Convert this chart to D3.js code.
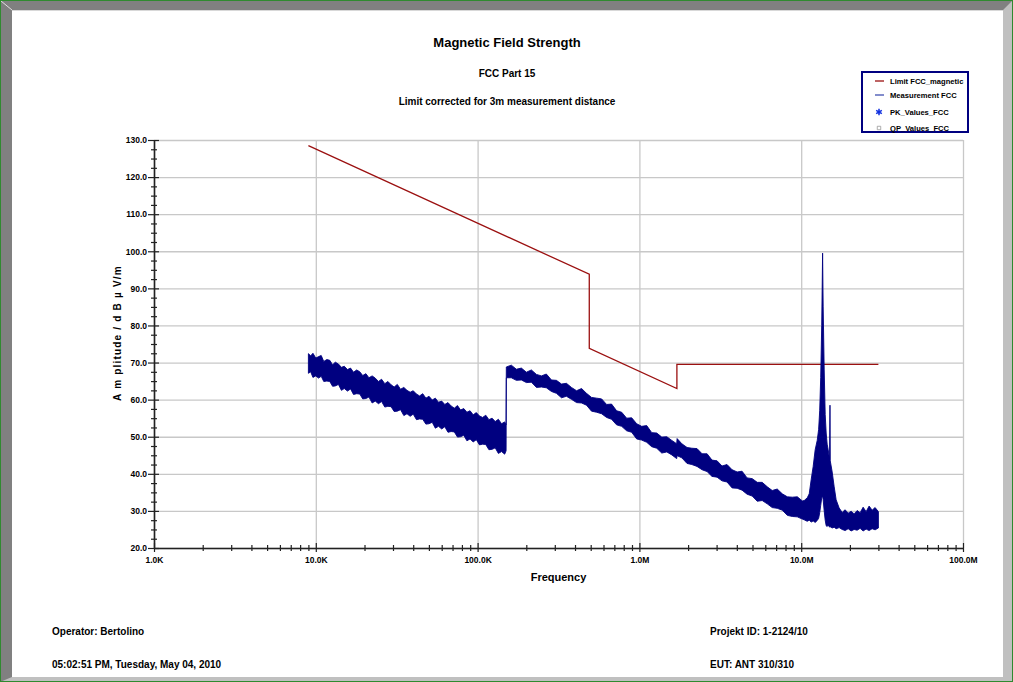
<!DOCTYPE html>
<html>
<head>
<meta charset="utf-8">
<script src="https://cdn.jsdelivr.net/npm/d3@7"></script>
<style>
html, body { margin: 0; padding: 0; background: #fff; overflow: hidden; }
svg text { font-family: 'Liberation Sans Narrow', 'Arial Narrow', 'Liberation Sans', Arial, sans-serif; font-weight: bold; fill: #000; }
</style>
</head>
<body>
<svg id="chart"></svg>
<script>
// Chart data (frequencies in kHz, levels in dBµV/m)
var xTickValues = [1, 10, 100, 1000, 10000, 100000];
var xTickLabels = ["1.0K", "10.0K", "100.0K", "1.0M", "10.0M", "100.0M"];
var yTickValues = [20, 30, 40, 50, 60, 70, 80, 90, 100, 110, 120, 130];

// FCC limit line
var limitFreq  = [9, 490, 490, 1705, 1705, 30000];
var limitLevel = [128.5, 93.8, 73.8, 63.0, 69.5, 69.5];

var measFreq = [
  9, 9.3, 9.6, 10, 10.4, 10.8, 11.2, 11.7, 12.2, 12.7, 13.2, 13.8, 14.4, 15, 15.7, 16.4, 17.1, 17.9, 18.7, 19.5,
  20.4, 21.3, 22.3, 23.3, 24.4, 25.5, 26.7, 27.9, 29.2, 30.5, 31.9, 33.4, 35, 36.6, 38.3, 40, 41.9, 43.8, 45.8, 47.9,
  50.1, 52.4, 54.8, 57.3, 60, 62.7, 65.6, 68.6, 71.8, 75.1, 78.5, 82.1, 85.9, 89.8, 93.9, 98.2, 102.7, 107.4, 112.3, 117.5,
  122.9, 128.5, 134.4, 140.6, 147, 150,
  150.5, 161.6, 173.6, 186.4, 200.2, 215, 231, 248, 266, 286, 307, 330, 354, 380, 409, 439, 471, 506, 544, 584,
  627, 673, 723, 777, 834, 896, 962, 1033, 1110, 1192, 1280, 1375, 1477, 1586, 1700, 1710, 1830, 1970, 2110, 2270,
  2440, 2620, 2810, 3020, 3240, 3480, 3740, 4020, 4310, 4630, 4980, 5350, 5740, 6170, 6620, 7110, 7640, 8210, 8810, 9460, 10160,
  10430, 10890, 11210, 11530, 11860, 12200, 12560, 12820, 13010, 13200, 13390, 13560, 13670, 13870, 14070, 14270, 14470, 14680,
  14970, 15060, 15120, 15540, 15990, 16440, 17160,
  17910, 18690, 19510, 20350, 21240, 22170, 23130, 24140, 25190, 26290, 27440, 28630, 30000
];
var measMax = [
  72.4, 71.8, 72.5, 71.2, 71.6, 71.9, 70.3, 70.8, 70.6, 69.4, 70.1, 69.6, 68.7, 69.0, 68.1, 68.5, 67.4, 68.0, 67.5, 66.5,
  67.0, 65.9, 66.4, 65.8, 64.9, 65.5, 64.3, 64.9, 64.0, 63.4, 64.1, 62.8, 63.3, 62.5, 62.0, 62.4, 61.5, 61.0, 61.6, 60.4,
  60.9, 59.9, 60.4, 59.3, 59.6, 58.7, 59.2, 58.3, 57.7, 58.4, 57.2, 57.6, 56.6, 57.0, 55.9, 56.5, 55.6, 55.2, 55.8, 54.6,
  55.0, 54.1, 54.7, 53.5, 54.0, 53.2,
  68.8, 69.3, 68.2, 68.5, 67.4, 68.0, 66.8, 66.4, 66.9, 65.3, 65.2, 64.2, 64.4, 63.3, 62.4, 63.0, 61.7, 60.6, 60.4, 60.2,
  58.7, 58.8, 57.0, 56.6, 55.0, 55.1, 53.5, 52.8, 53.0, 51.1, 51.0, 49.9, 50.0, 49.0, 48.1, 49.5, 48.1, 47.1, 46.9, 46.8,
  45.4, 45.4, 43.7, 43.5, 42.1, 42.5, 41.1, 40.5, 40.7, 38.9, 38.7, 37.7, 37.7, 36.5, 35.5, 35.9, 34.6, 33.8, 33.7, 33.8, 32.7,
  32.8, 33.5, 34.6, 38.5, 42.0, 46.5, 49.0, 52.0, 57.0, 66.0, 80.0, 99.5, 85.0, 68.0, 56.0, 51.0, 48.0, 46.5,
  44.0, 58.5, 43.5, 40.5, 36.5, 33.0, 30.8,
  29.6, 30.3, 29.4, 29.9, 29.2, 30.1, 29.5, 31.0, 29.8, 31.3, 30.2, 30.9, 29.8
];
var measMin = [
  67.1, 67.5, 66.0, 66.4, 65.8, 66.3, 64.9, 65.0, 64.9, 63.6, 63.7, 64.1, 62.5, 63.0, 62.3, 62.9, 61.4, 61.6, 61.5, 60.2,
  60.3, 60.7, 59.1, 59.6, 58.9, 59.5, 58.0, 58.2, 58.1, 56.8, 56.9, 57.3, 55.7, 56.2, 55.5, 56.1, 54.6, 54.8, 54.7, 53.4,
  53.5, 53.9, 52.3, 52.8, 52.1, 52.7, 51.2, 51.4, 51.3, 49.9, 50.0, 50.4, 48.9, 49.4, 48.6, 49.2, 47.8, 48.0, 47.9, 46.5,
  46.6, 47.0, 45.5, 46.0, 45.3, 46.2,
  65.9, 65.9, 65.2, 65.3, 64.6, 64.7, 63.3, 63.4, 63.2, 62.2, 61.7, 60.5, 60.9, 60.1, 59.2, 59.1, 58.5, 56.9, 56.6, 56.2,
  55.2, 54.7, 53.2, 52.8, 51.6, 51.2, 49.4, 49.1, 48.5, 47.3, 46.9, 45.6, 45.9, 45.1, 44.1, 44.9, 44.3, 42.8, 42.5, 42.0,
  41.1, 40.6, 39.3, 39.1, 38.1, 37.8, 36.2, 36.1, 35.6, 34.5, 34.0, 32.6, 32.8, 31.9, 30.9, 30.7, 30.2, 28.8, 28.5, 28.4, 27.8,
  27.6, 27.2, 27.5, 27.0, 27.3, 26.9, 27.4, 28.0, 29.5, 31.5, 33.5, 34.0, 33.0, 30.0, 27.5, 26.0, 25.8, 26.2,
  25.6, 25.9, 25.7, 25.4, 25.6, 25.2, 25.5,
  25.0, 24.7, 25.2, 24.6, 25.0, 24.8, 25.3, 24.6, 25.1, 24.7, 25.2, 24.9, 25.4
];

var legendNames = ["Limit FCC_magnetic", "Measurement FCC", "PK_Values_FCC", "QP_Values_FCC"];

// Layout
var width = 1013;
var height = 682;
var plotLeft = 154, plotRight = 963, plotTop = 140, plotBottom = 548;
var limitColor = "#9b1010";
var measColor = "#000080";
var gridColor = "#c8c8c8";

var svg = d3.select("#chart").attr("width", width).attr("height", height);

// Window frame (bevelled border)
svg.append("rect").attr("width", width).attr("height", height).attr("fill", "#c0c0c0");
svg.append("path").attr("d", "M0,0H1013L1003,10H12V677L0,682Z").attr("fill", "#808080");
svg.append("rect").attr("x", 12).attr("y", 10).attr("width", 991).attr("height", 667).attr("fill", "#fff");
svg.append("line").attr("x1", 1).attr("y1", 1).attr("x2", 12).attr("y2", 10).attr("stroke", "#e0e0e0");
svg.append("line").attr("x1", 12).attr("y1", 10.5).attr("x2", 1003).attr("y2", 10.5).attr("stroke", "#d8d8d8");
svg.append("rect").attr("x", 0.5).attr("y", 0.5).attr("width", width - 1).attr("height", height - 1)
    .attr("fill", "none").attr("stroke", "#2f8a2f");

// Scales
var x = d3.scaleLog().domain([1, 100000]).range([plotLeft, plotRight]);
var y = d3.scaleLinear().domain([20, 130]).range([plotBottom, plotTop]);

// Minor ticks (2..9 per decade on x, every 2.5 dB on y)
var xMinor = [];
xTickValues.slice(0, -1).forEach(function (d) {
    for (var m = 2; m <= 9; m++) xMinor.push(d * m);
});
var yMinor = d3.range(20, 130, 2.5).filter(function (v) { return v % 10 !== 0; });

// Grid
svg.append("g").attr("class", "grid")
    .attr("transform", "translate(0," + plotBottom + ")")
    .call(d3.axisBottom(x).tickValues(xTickValues).tickSize(-(plotBottom - plotTop)).tickFormat(""))
    .call(function (g) { g.select(".domain").remove(); });
svg.append("g").attr("class", "grid")
    .attr("transform", "translate(" + plotLeft + ",0)")
    .call(d3.axisLeft(y).tickValues(yTickValues).tickSize(-(plotRight - plotLeft)).tickFormat(""))
    .call(function (g) { g.select(".domain").remove(); });
svg.selectAll(".grid line").attr("stroke", gridColor).attr("stroke-width", 1.3);

// Limit line
var line = d3.line()
    .x(function (d) { return x(d[0]); })
    .y(function (d) { return y(d[1]); });
svg.append("path")
    .datum(d3.zip(limitFreq, limitLevel))
    .attr("d", line)
    .attr("fill", "none")
    .attr("stroke", limitColor)
    .attr("stroke-width", 1.3);

// Measurement trace drawn as a band between its upper and lower edge
var band = d3.area()
    .x(function (d) { return x(d[0]); })
    .y0(function (d) { return y(d[2]); })
    .y1(function (d) { return y(d[1]); });
svg.append("path")
    .datum(d3.zip(measFreq, measMax, measMin))
    .attr("d", band)
    .attr("fill", measColor)
    .attr("stroke", measColor)
    .attr("stroke-width", 0.9)
    .attr("stroke-linejoin", "round");

// Axes: ticks cross the axis line, so draw both sides
function noDomain(g) { g.select(".domain").remove(); }

svg.append("g").attr("transform", "translate(0," + plotBottom + ")")
    .call(d3.axisTop(x).tickValues(xTickValues).tickSize(5).tickFormat("")).call(noDomain);
svg.append("g").attr("transform", "translate(0," + plotBottom + ")")
    .call(d3.axisTop(x).tickValues(xMinor).tickSize(3).tickFormat("")).call(noDomain);
svg.append("g").attr("transform", "translate(0," + plotBottom + ")")
    .call(d3.axisBottom(x).tickValues(xMinor).tickSize(3).tickFormat("")).call(noDomain);
var xAxis = svg.append("g").attr("class", "axis").attr("transform", "translate(0," + plotBottom + ")")
    .call(d3.axisBottom(x).tickValues(xTickValues).tickSize(4).tickSizeOuter(0).tickPadding(5)
        .tickFormat(function (d, i) { return xTickLabels[i]; }));

svg.append("g").attr("transform", "translate(" + plotLeft + ",0)")
    .call(d3.axisRight(y).tickValues(yTickValues).tickSize(5).tickFormat("")).call(noDomain);
svg.append("g").attr("transform", "translate(" + plotLeft + ",0)")
    .call(d3.axisRight(y).tickValues(yMinor).tickSize(3).tickFormat("")).call(noDomain);
svg.append("g").attr("transform", "translate(" + plotLeft + ",0)")
    .call(d3.axisLeft(y).tickValues(yMinor).tickSize(3).tickFormat("")).call(noDomain);
var yAxis = svg.append("g").attr("class", "axis").attr("transform", "translate(" + plotLeft + ",0)")
    .call(d3.axisLeft(y).tickValues(yTickValues).tickSize(6).tickSizeOuter(0).tickPadding(1)
        .tickFormat(d3.format(".1f")));

svg.selectAll(".tick line").filter(function () { return !this.closest(".grid"); })
    .attr("stroke", "#222").attr("stroke-width", 1.2);
svg.selectAll(".axis .domain").attr("stroke", "#222").attr("stroke-width", 1.6);
svg.selectAll(".axis text").style("font-size", "8.5px").attr("fill", "#000");

// Titles
svg.append("text").attr("x", 507).attr("y", 47).attr("text-anchor", "middle")
    .style("font-size", "13px").text("Magnetic Field Strength");
svg.append("text").attr("x", 507).attr("y", 77).attr("text-anchor", "middle")
    .style("font-size", "10px").text("FCC Part 15");
svg.append("text").attr("x", 507).attr("y", 104.5).attr("text-anchor", "middle")
    .style("font-size", "10px").text("Limit corrected for 3m measurement distance");

// Axis titles
svg.append("text").attr("x", (plotLeft + plotRight) / 2).attr("y", 581).attr("text-anchor", "middle")
    .style("font-size", "11px").text("Frequency");
svg.append("text")
    .attr("transform", "translate(121,333) rotate(-90)")
    .attr("text-anchor", "middle")
    .style("font-size", "10px").style("letter-spacing", "1.2px")
    .text("A m plitude / d B µ V/m");

// Legend
var legend = svg.append("g").attr("transform", "translate(862,72)");
legend.append("rect").attr("width", 106).attr("height", 60)
    .attr("fill", "#fff").attr("stroke", measColor).attr("stroke-width", 2);
var rowY = [9, 23, 40, 56];
var items = legend.selectAll("g.item").data(legendNames).enter().append("g")
    .attr("class", "item")
    .attr("transform", function (d, i) { return "translate(0," + rowY[i] + ")"; });
items.append("text").attr("x", 28).attr("dy", "0.35em").style("font-size", "7.6px")
    .text(function (d) { return d; });
items.filter(function (d, i) { return i < 2; }).append("line")
    .attr("x1", 13).attr("x2", 22)
    .attr("stroke", function (d, i) { return i === 0 ? limitColor : "#4050b0"; })
    .attr("stroke-width", 1.3);
items.filter(function (d, i) { return i === 2; }).append("path")
    .attr("transform", "translate(17,0)")
    .attr("d", d3.symbol(d3.symbolAsterisk, 30))
    .attr("fill", "none").attr("stroke", "#1030e0").attr("stroke-width", 1.5);
items.filter(function (d, i) { return i === 3; }).append("path")
    .attr("transform", "translate(17,0)")
    .attr("d", d3.symbol(d3.symbolSquare, 12))
    .attr("fill", "none").attr("stroke", "#999").attr("stroke-width", 0.8);

// Footer
svg.append("text").attr("x", 52).attr("y", 634.5).style("font-size", "10px").text("Operator: Bertolino");
svg.append("text").attr("x", 52).attr("y", 667.5).style("font-size", "10px").text("05:02:51 PM, Tuesday, May 04, 2010");
svg.append("text").attr("x", 710).attr("y", 634.5).style("font-size", "10px").text("Projekt ID: 1-2124/10");
svg.append("text").attr("x", 710).attr("y", 667.5).style("font-size", "10px").text("EUT: ANT 310/310");
</script>
</body>
</html>
